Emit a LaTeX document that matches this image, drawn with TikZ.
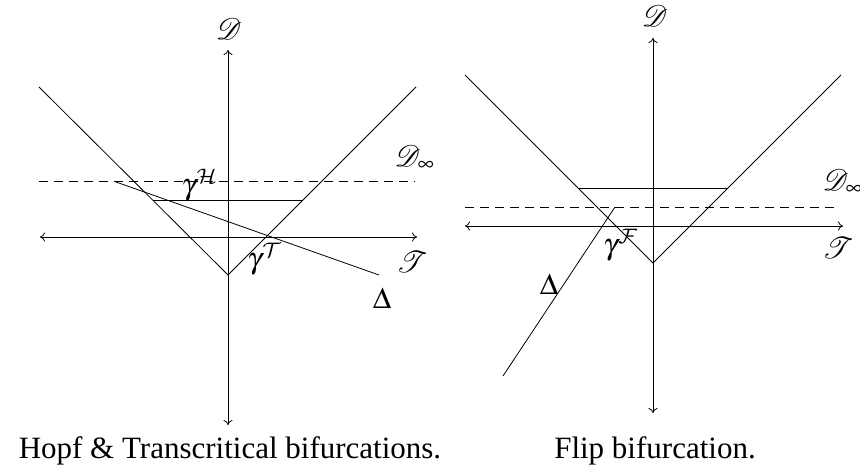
\documentclass[tikz,border=0pt]{standalone}
\usepackage{mathptmx}
\usepackage{mathrsfs}
\usepackage[no-math]{fontspec}
\setmainfont{Liberation Serif}
\DeclareMathAlphabet{\mathcal}{OMS}{cmsy}{m}{n}
\usetikzlibrary{arrows.meta}
\newcommand{\mylab}[1]{\scalebox{3.0}{$#1$}}
\begin{document}
\begin{tikzpicture}[x=1pt,y=-1pt, line width=0.8pt,
  axis/.style={{To[length=5pt,width=9pt]}-{To[length=5pt,width=9pt]}},
  dashline/.style={dash pattern=on 9pt off 6pt},
  lbl/.style={inner sep=0pt},
  captext/.style={inner sep=0pt, anchor=base, font=\fontsize{31}{37}\selectfont}]
\useasboundingbox (0,0) rectangle (860,470);

% ---------- left diagram ----------
\coordinate (LDtop) at (228,50);
\coordinate (LDbot) at (228,425);
\coordinate (LTl) at (40,237);
\coordinate (LTr) at (417,237);
\coordinate (LVl) at (39,87);
\coordinate (LV0) at (228,275);
\coordinate (LVr) at (416,87);
\coordinate (LDinfl) at (39,181);
\coordinate (LDinfr) at (415,181);
\coordinate (LSl) at (153,200);
\coordinate (LSr) at (303,200);
\coordinate (LAa) at (116,182);
\coordinate (LAb) at (379,275);

\draw[axis] (LDbot) -- (LDtop);
\draw[axis] (LTl) -- (LTr);
\draw (LVl) -- (LV0) -- (LVr);
\draw[dashline] (LDinfl) -- (LDinfr);
\draw (LSl) -- (LSr);
\draw (LAa) -- (LAb);

\node[lbl] (LDlab) at (229,29) {\mylab{\mathscr{D}}};
\node[lbl] (LTlab) at (412,262) {\mylab{\mathscr{T}}};
\node[lbl] (LDinflab) at (415,158) {\mylab{\mathscr{D}_\infty}};
\node[lbl] (LgH) at (200,185) {\mylab{\gamma^{\mathcal{H}}}};
\node[lbl] (LgT) at (265,259) {\mylab{\gamma^{\mathcal{T}}}};
\node[lbl] (LDelta) at (382,298) {\mylab{\Delta}};
\node[captext] (Lcap) at (230,458) {Hopf \& Transcritical bifurcations.};

% ---------- right diagram ----------
\coordinate (RDtop) at (653,38);
\coordinate (RDbot) at (653,413);
\coordinate (RTl) at (465,226);
\coordinate (RTr) at (843,226);
\coordinate (RVl) at (465,75);
\coordinate (RV0) at (653,263);
\coordinate (RVr) at (841,75);
\coordinate (RDinfl) at (465,207);
\coordinate (RDinfr) at (839,207);
\coordinate (RSl) at (578,188);
\coordinate (RSr) at (728,188);
\coordinate (RAa) at (615,207);
\coordinate (RAb) at (503,376);

\draw[axis] (RDbot) -- (RDtop);
\draw[axis] (RTl) -- (RTr);
\draw (RVl) -- (RV0) -- (RVr);
\draw[dashline] (RDinfl) -- (RDinfr);
\draw (RSl) -- (RSr);
\draw (RAa) -- (RAb);

\node[lbl] (RDlab) at (655,16) {\mylab{\mathscr{D}}};
\node[lbl] (RTlab) at (838,248) {\mylab{\mathscr{T}}};
\node[lbl] (RDinflab) at (843,182) {\mylab{\mathscr{D}_\infty}};
\node[lbl] (RgF) at (621,245) {\mylab{\gamma^{\mathcal{F}}}};
\node[lbl] (RDelta) at (549,284) {\mylab{\Delta}};
\node[captext] (Rcap) at (655,458) {Flip bifurcation.};
\end{tikzpicture}
\end{document}
